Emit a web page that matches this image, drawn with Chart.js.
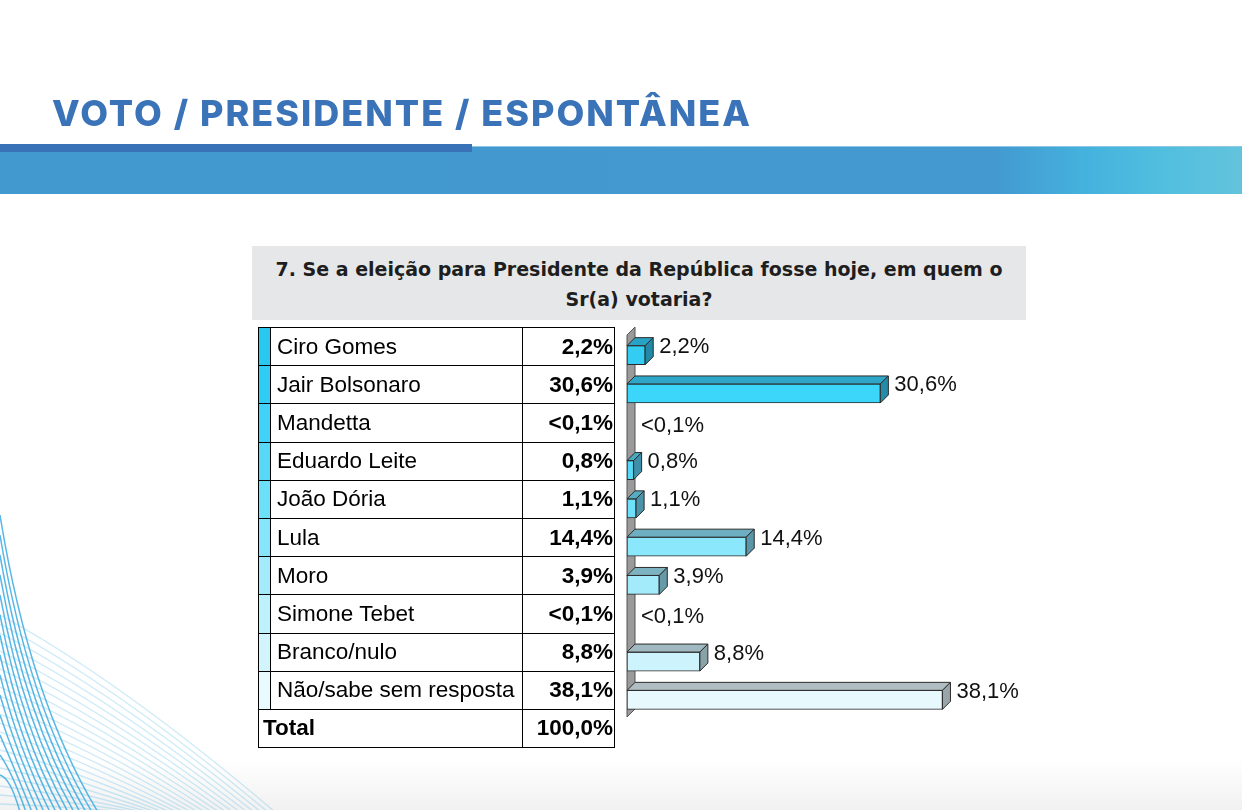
<!DOCTYPE html>
<html lang="pt-BR">
<head>
<meta charset="utf-8">
<script src="https://cdn.jsdelivr.net/npm/chart.js@4"></script>
<style>
  html, body { margin: 0; padding: 0; }
  body {
    width: 1242px; height: 810px; position: relative; overflow: hidden;
    background: linear-gradient(180deg, #fff 0px, #fff 760px, #f1f1f1 810px);
    font-family: "Liberation Sans", Arial, sans-serif;
  }
  #fundo { position: absolute; left: 0; top: 0; }
  #titulo {
    position: absolute; left: 52px; top: 91px; margin: 0;
    font-family: Inter, sans-serif; font-weight: 800; font-size: 36px;
    color: #3a73b8; letter-spacing: 2px; white-space: nowrap;
  }
  #faixaEscura { position: absolute; left: 0; top: 144px; width: 472px; height: 8px; background: #3a72b7; }
  #faixa {
    position: absolute; left: 0; top: 146px; width: 1242px; height: 47px;
    background: linear-gradient(90deg, #4299cf 0%, #4399d0 80%, #45b4de 88%, #52bfdf 94%, #63c3dc 100%);
    border-top: 1px solid #8cc8e6;
  }
  #pergunta {
    position: absolute; left: 252px; top: 246px; width: 774px; height: 74px;
    background: #e6e7e8; color: #1e1e1e; text-align: center;
    font-family: "DejaVu Sans", sans-serif; font-weight: bold;
    font-size: 19px; line-height: 30px; padding-top: 8px; box-sizing: border-box;
  }
  #tabela {
    position: absolute; left: 258px; top: 327px; border-collapse: collapse;
    table-layout: fixed; width: 356px;
  }
  #tabela td {
    border: 1.5px solid #000; height: 38.2px; padding: 0; font-size: 22.5px; color: #000;
    box-sizing: border-box; white-space: nowrap; overflow: hidden;
  }
  #tabela td.nome { padding-left: 6px; }
  #tabela td.valor { text-align: right; font-weight: bold; padding-right: 1px; }
  #tabela td.total { font-weight: bold; padding-left: 4px; }
  #caixaGrafico { position: absolute; left: 600px; top: 320px; width: 441px; height: 410px; }
</style>
</head>
<body>
<canvas id="fundo" width="1242" height="810"></canvas>
<h1 id="titulo">VOTO / PRESIDENTE / ESPONTÂNEA</h1>
<div id="faixa"></div>
<div id="faixaEscura"></div>
<div id="pergunta">7. Se a eleição para Presidente da República fosse hoje, em quem o<br>Sr(a) votaria?</div>
<table id="tabela">
  <colgroup><col style="width:12px"><col style="width:252px"><col style="width:92px"></colgroup>
</table>
<div id="caixaGrafico"><canvas id="grafico"></canvas></div>

<script>
// dados
const candidatos = ['Ciro Gomes', 'Jair Bolsonaro', 'Mandetta', 'Eduardo Leite', 'João Dória',
  'Lula', 'Moro', 'Simone Tebet', 'Branco/nulo', 'Não/sabe sem resposta'];
const percentuais = [2.2, 30.6, 0, 0.8, 1.1, 14.4, 3.9, 0, 8.8, 38.1];
const rotulos = ['2,2%', '30,6%', '<0,1%', '0,8%', '1,1%', '14,4%', '3,9%', '<0,1%', '8,8%', '38,1%'];
const totalRotulo = '100,0%';

// cores (frente, topo, lado, faixa da tabela)
const corFrente = ['#33ccf3', '#3dd6fb', '#48d8f8', '#55d9f6', '#6fe0fa', '#8be7fb', '#a3ebfb', '#bdf0fc', '#cdf4fd', '#e8f9fe'];
const corTopo   = ['#28a3c5', '#2fa6c7', '#3aa8c4', '#4aaac2', '#58acc2', '#6dafc0', '#7db2c0', '#90b6c0', '#a0b9c1', '#b0bdc2'];
const corLado   = ['#218aa8', '#248ca9', '#2f8ea8', '#3d90a8', '#4a93a8', '#5997a8', '#679aa8', '#789ea8', '#88a2a8', '#99a5a9'];
const corFaixa  = ['#29c8f0', '#2fcdf5', '#40d3f7', '#57d8f7', '#6cdff9', '#86e5fa', '#a3ebfb', '#bdf1fc', '#d2f5fd', '#e8fafe'];

/* =========================================================
   FUNDO (linhas decorativas)
========================================================= */
function desenharFundo() {
  const ctx = document.getElementById('fundo').getContext('2d');

  // padrão na faixa azul
  ctx.save();
  ctx.beginPath();
  ctx.rect(0, 147, 1242, 46);
  ctx.clip();
  ctx.strokeStyle = 'rgba(40,120,200,0.45)';
  ctx.lineWidth = 1.2;
  for (let i = 0; i < 14; i++) {
    ctx.beginPath();
    ctx.moveTo(880 + i * 20, 200);
    ctx.lineTo(1000 + i * 26, 140);
    ctx.stroke();
    ctx.beginPath();
    ctx.moveTo(900 + i * 14, 140);
    ctx.lineTo(960 + i * 22, 200);
    ctx.stroke();
  }
  ctx.strokeStyle = 'rgba(50,140,205,0.5)';
  for (let i = 0; i < 4; i++) {
    ctx.beginPath();
    ctx.moveTo(1060 + i * 55, 145);
    ctx.lineTo(1160 + i * 55, 195);
    ctx.stroke();
  }
  ctx.restore();

  // linhas claras
  ctx.lineWidth = 1.3;
  ctx.strokeStyle = 'rgba(110,195,235,0.35)';
  for (let i = 0; i < 22; i++) {
    ctx.beginPath();
    ctx.moveTo(0, 615 + i * 9);
    ctx.quadraticCurveTo(120 - i * 3, 680 + i * 6, 275 - i * 7, 812);
    ctx.stroke();
  }
  // linhas escuras
  ctx.lineWidth = 1.5;
  ctx.strokeStyle = 'rgba(60,170,225,0.85)';
  for (let i = 0; i < 14; i++) {
    ctx.beginPath();
    ctx.moveTo(0, 515 + i * 20);
    ctx.quadraticCurveTo(30 - i * 1.5, 700 + i * 6, 98 - i * 6, 812);
    ctx.stroke();
  }
}

/* =========================================================
   TABELA
========================================================= */
function montarTabela() {
  const t = document.getElementById('tabela');
  candidatos.forEach((c, i) => {
    const tr = document.createElement('tr');
    tr.innerHTML = `<td class="cor" style="background:${corFaixa[i]}"></td>` +
      `<td class="nome">${c}</td><td class="valor">${rotulos[i]}</td>`;
    t.appendChild(tr);
  });
  const tr = document.createElement('tr');
  tr.innerHTML = `<td class="total" colspan="2">Total</td><td class="valor">${totalRotulo}</td>`;
  t.appendChild(tr);
}

/* =========================================================
   GRÁFICO 3D
========================================================= */
const P = 8; // profundidade

const barras3d = {
  id: 'barras3d',
  beforeDatasetsDraw(chart) {
    const { ctx, chartArea: a } = chart;
    ctx.save();
    ctx.fillStyle = '#9a9a9a';
    ctx.strokeStyle = '#555';
    ctx.lineWidth = 1;
    ctx.beginPath();
    ctx.moveTo(a.left, a.top - 1);
    ctx.lineTo(a.left + P, a.top - 1 - P);
    ctx.lineTo(a.left + P, a.bottom - 2 - P);
    ctx.lineTo(a.left, a.bottom - 2);
    ctx.closePath();
    ctx.fill();
    ctx.stroke();
    ctx.restore();
  },
  afterDatasetsDraw(chart) {
    const { ctx } = chart;
    const meta = chart.getDatasetMeta(0);
    ctx.save();
    ctx.lineWidth = 1;
    ctx.strokeStyle = '#2b2b2b';
    meta.data.forEach((bar, i) => {
      const { x, y, base, height } = bar.getProps(['x', 'y', 'base', 'height'], true);
      const topo = y - height / 2;
      if (percentuais[i] > 0) {
        ctx.fillStyle = corTopo[i];
        ctx.beginPath();
        ctx.moveTo(base, topo);
        ctx.lineTo(base + P, topo - P);
        ctx.lineTo(x + P, topo - P);
        ctx.lineTo(x, topo);
        ctx.closePath();
        ctx.fill();
        ctx.stroke();

        ctx.fillStyle = corLado[i];
        ctx.beginPath();
        ctx.moveTo(x, topo);
        ctx.lineTo(x + P, topo - P);
        ctx.lineTo(x + P, topo + height - P);
        ctx.lineTo(x, topo + height);
        ctx.closePath();
        ctx.fill();
        ctx.stroke();
      }
      ctx.fillStyle = '#111';
      ctx.font = '22px "Liberation Sans", Arial, sans-serif';
      ctx.textBaseline = 'alphabetic';
      ctx.fillText(rotulos[i], x + P + 6, percentuais[i] > 0 ? y - 2 : y);
    });
    ctx.restore();
  }
};

function desenharGrafico() {
  new Chart(document.getElementById('grafico'), {
    type: 'bar',
    data: {
      labels: candidatos,
      datasets: [{
        data: percentuais,
        backgroundColor: corFrente,
        borderColor: '#2b2b2b',
        borderWidth: 1,
        borderSkipped: false,
        barThickness: 19
      }]
    },
    options: {
      indexAxis: 'y',
      responsive: true,
      maintainAspectRatio: false,
      animation: false,
      layout: { padding: { left: 27, right: 0, top: 16, bottom: 11 } },
      plugins: { legend: { display: false }, tooltip: { enabled: false } },
      scales: {
        x: { min: 0, max: 50, display: false },
        y: { display: false }
      }
    },
    plugins: [barras3d]
  });
}

desenharFundo();
montarTabela();
desenharGrafico();
</script>
</body>
</html>
